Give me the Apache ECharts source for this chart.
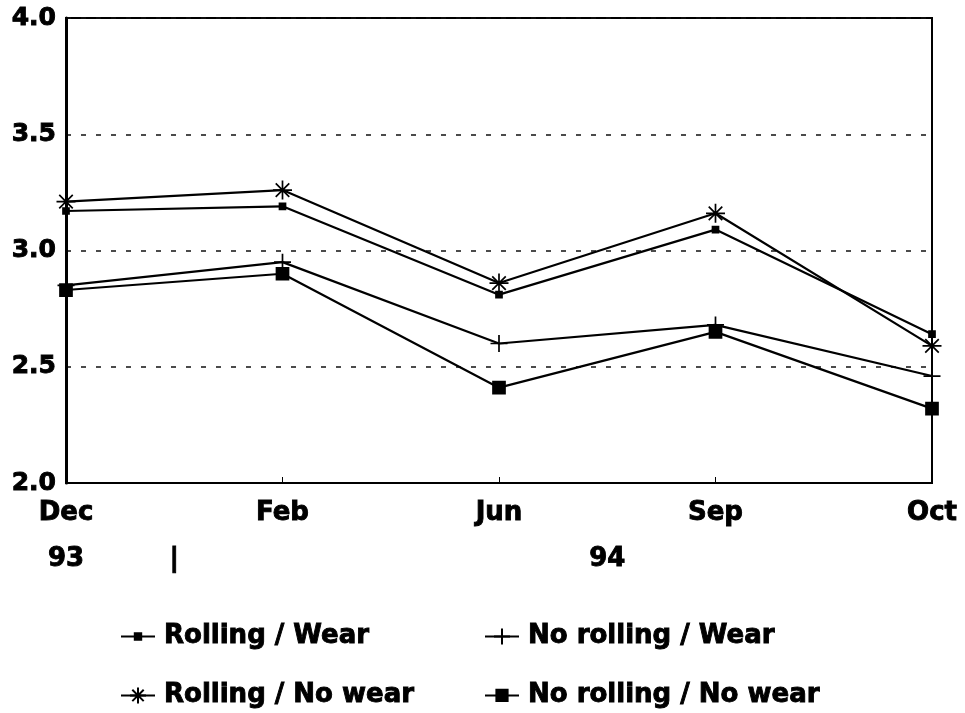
<!DOCTYPE html>
<html>
<head>
<meta charset="utf-8">
<script src="https://cdn.jsdelivr.net/npm/echarts@6/dist/echarts.min.js"></script>
<style>
html,body{margin:0;padding:0;background:#fff;}
#chart{width:965px;height:713px;}
</style>
</head>
<body>
<div id="chart"></div>
<script>
const categories = ['Dec', 'Feb', 'Jun', 'Sep', 'Oct'];
const rollingWear = [3.17, 3.19, 2.81, 3.09, 2.64];
const rollingNoWear = [3.21, 3.26, 2.86, 3.16, 2.59];
const noRollingWear = [2.85, 2.95, 2.60, 2.68, 2.46];
const noRollingNoWear = [2.83, 2.90, 2.41, 2.65, 2.32];
const yTicks = [2.0, 2.5, 3.0, 3.5, 4.0];
// year labels positioned along the month index scale (0 = Dec ... 4 = Oct)
const yearPositions = [0, 0.5, 2.5];
const yearTexts = ['93', '|', '94'];
const seriesNames = ['Rolling / Wear', 'No rolling / Wear', 'Rolling / No wear', 'No rolling / No wear'];

const FONT = 'DejaVu Sans';
const plusPath = 'path://M0,8L16,8M8,0L8,16';
const starPath = 'path://M0,8L16,8M8,0L8,16M2.3,2.3L13.7,13.7M13.7,2.3L2.3,13.7';
const heavy = {textBorderColor: '#000', textBorderWidth: 0.9};

const chart = echarts.init(document.getElementById('chart'), null, {renderer: 'canvas'});

function mkSeries(name, data, symbol, size) {
  return {
    name: name,
    type: 'line',
    data: data,
    symbol: symbol,
    symbolSize: size,
    showAllSymbol: true,
    lineStyle: {color: '#000', width: 2.2},
    itemStyle: {color: '#000', borderColor: '#000', borderWidth: 1.7},
    emphasis: {disabled: true},
    animation: false,
    z: 3
  };
}

function mkLegend(name, left, top, itemH) {
  return {
    data: [name],
    left: left,
    top: top,
    padding: 0,
    itemWidth: 34,
    itemHeight: itemH,
    selectedMode: false,
    textStyle: Object.assign({fontFamily: FONT, fontWeight: 'bold', fontSize: 26, color: '#000', padding: [0, 0, 0, 4]}, heavy)
  };
}

const option = {
  backgroundColor: '#fff',
  animation: false,
  grid: {
    left: 66, right: 33, top: 18, bottom: 230,
    show: true, borderColor: '#000', borderWidth: 2, backgroundColor: 'transparent'
  },
  legend: [
    mkLegend(seriesNames[0], 120, 623, 8),
    mkLegend(seriesNames[2], 120, 682, 20),
    mkLegend(seriesNames[1], 484, 623, 20),
    mkLegend(seriesNames[3], 484, 682, 14)
  ],
  xAxis: [
    {
      type: 'category',
      data: categories,
      boundaryGap: false,
      axisLine: {show: true, lineStyle: {color: '#000', width: 2}},
      axisTick: {show: true, inside: true, length: 6, lineStyle: {color: '#000', width: 1}},
      axisLabel: Object.assign({margin: 17, fontFamily: FONT, fontWeight: 'bold', fontSize: 26, color: '#000', interval: 0, showMinLabel: true, showMaxLabel: true}, heavy),
      splitLine: {show: false}
    },
    {
      type: 'value',
      position: 'bottom',
      offset: 46,
      min: 0, max: 4, interval: 0.5,
      axisLine: {show: false},
      axisTick: {show: false},
      splitLine: {show: false},
      axisLabel: Object.assign({
        margin: 17, fontFamily: FONT, fontWeight: 'bold', fontSize: 26, color: '#000',
        showMinLabel: true, showMaxLabel: true,
        formatter: function (v) {
          for (let i = 0; i < yearPositions.length; i++) {
            if (Math.abs(v - yearPositions[i]) < 1e-6) return yearTexts[i];
          }
          return '';
        }
      }, heavy)
    }
  ],
  yAxis: {
    type: 'value',
    min: yTicks[0], max: yTicks[yTicks.length - 1], interval: 0.5,
    axisLine: {show: true, lineStyle: {color: '#000', width: 3}},
    axisTick: {show: false},
    axisLabel: Object.assign({
      margin: 10, fontFamily: FONT, fontWeight: 'bold', fontSize: 25, color: '#000',
      verticalAlign: 'middle', padding: [5, 0, 0, 0],
      formatter: function (v) { return v.toFixed(1); }
    }, heavy),
    splitLine: {show: true, lineStyle: {color: '#111', width: 1.5, type: [5, 10]}}
  },
  series: [
    mkSeries(seriesNames[0], rollingWear, 'rect', 6),
    mkSeries(seriesNames[1], noRollingWear, plusPath, 17),
    mkSeries(seriesNames[2], rollingNoWear, starPath, 19),
    mkSeries(seriesNames[3], noRollingNoWear, 'rect', 12)
  ]
};
chart.setOption(option);
</script>
</body>
</html>
